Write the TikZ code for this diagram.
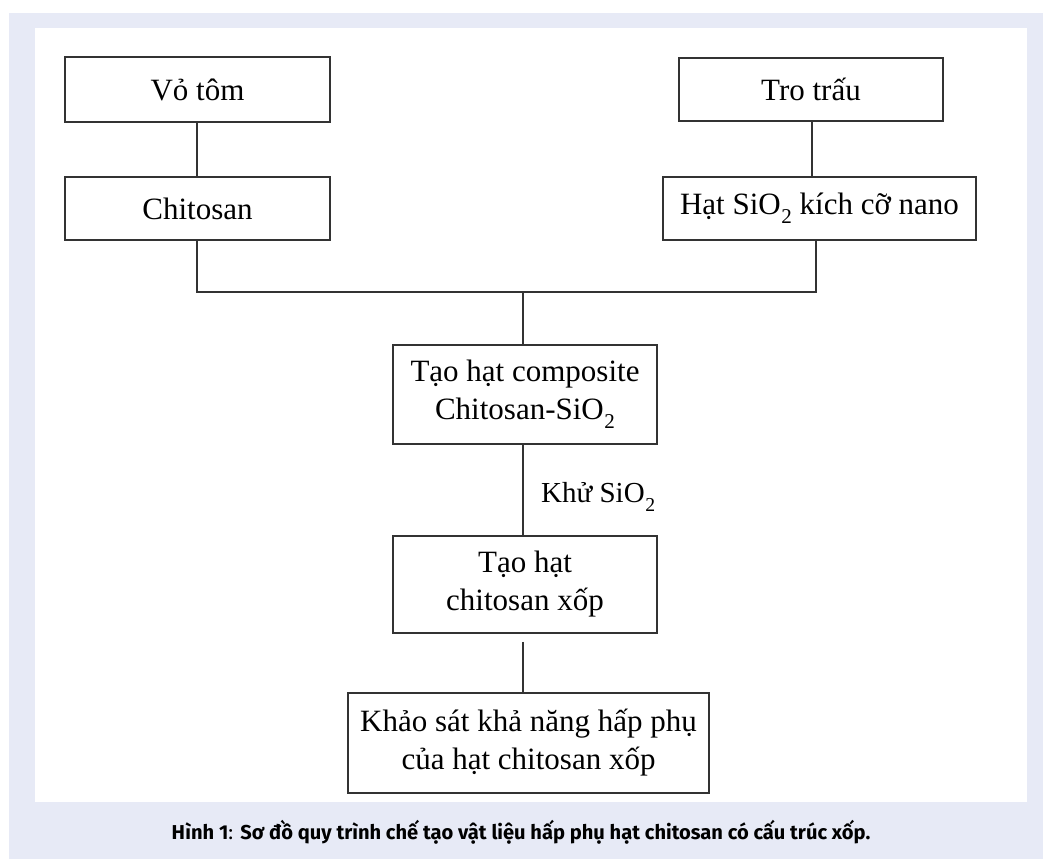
\documentclass[tikz,border=0pt]{standalone}
\usepackage{fontspec}
\setmainfont{Liberation Serif}
\newfontfamily\capfont{Fira Sans}
\newcommand\subtwo{\kern0.02em\raisebox{-0.3em}{\scalebox{0.68}{2}}}
\begin{document}
\begin{tikzpicture}[x=1pt,y=-1pt,
  box/.style={draw=black!80,line width=1.8pt,fill=white,inner sep=0pt,align=center,
    font=\fontsize{31}{38}\selectfont},
  conn/.style={draw=black!80,line width=1.7pt}]
\useasboundingbox (0,0) rectangle (1043,859);
\fill[white] (0,0) rectangle (1043,859);
\fill[fill={rgb,255:red,231;green,234;blue,246}] (9,13) rectangle (1043,859);
\fill[white] (35,28) rectangle (1027,802);
% boxes
\node[box,minimum width=265pt,minimum height=65pt] (vo) at (197.5,89.5) {Vỏ tôm};
\node[box,minimum width=265pt,minimum height=63pt] (chit) at (197.5,208.5) {Chitosan};
\node[box,minimum width=264pt,minimum height=63pt] (tro) at (811,89.5) {Tro trấu};
\node[box,minimum width=313pt,minimum height=63pt] (hat) at (819.5,208.5) {Hạt SiO\subtwo{} kích cỡ nano};
\node[box,minimum width=264pt,minimum height=99pt] (comp) at (525,394.5) {Tạo hạt composite\\Chitosan-SiO\subtwo};
\node[box,minimum width=264pt,minimum height=97pt] (xop) at (525,584.5) {Tạo hạt\\chitosan xốp};
\node[box,minimum width=361pt,minimum height=100pt] (khao) at (528.5,743) {Khảo sát khả năng hấp phụ\\của hạt chitosan xốp};
% junction coordinates
\coordinate (jl) at (197,292);
\coordinate (jr) at (816,292);
\coordinate (jm) at (523,292);
\coordinate (jt) at (812,0);
% connectors
\draw[conn] (vo.south -| jl) -- (chit.north -| jl);
\draw[conn] (tro.south -| jt) -- (hat.north -| jt);
\draw[conn] (chit.south -| jl) -- (jl) -- (jr) -- (hat.south -| jr);
\draw[conn] (jm) -- (comp.north -| jm);
\draw[conn] (comp.south -| jm) -- node[right=14pt,pos=0.5,font=\fontsize{29}{34}\selectfont,yshift=-7pt]{Khử SiO\subtwo} (xop.north -| jm);
\draw[conn,shorten <=8pt] (xop.south -| jm) -- (khao.north -| jm);
% caption
\node[font=\capfont\fontsize{20.1}{24}\selectfont] (cap) at (521,832)
  {\textbf{Hình 1}: \textbf{Sơ đồ quy trình chế tạo vật liệu hấp phụ hạt chitosan có cấu trúc xốp.}};
\end{tikzpicture}
\end{document}
